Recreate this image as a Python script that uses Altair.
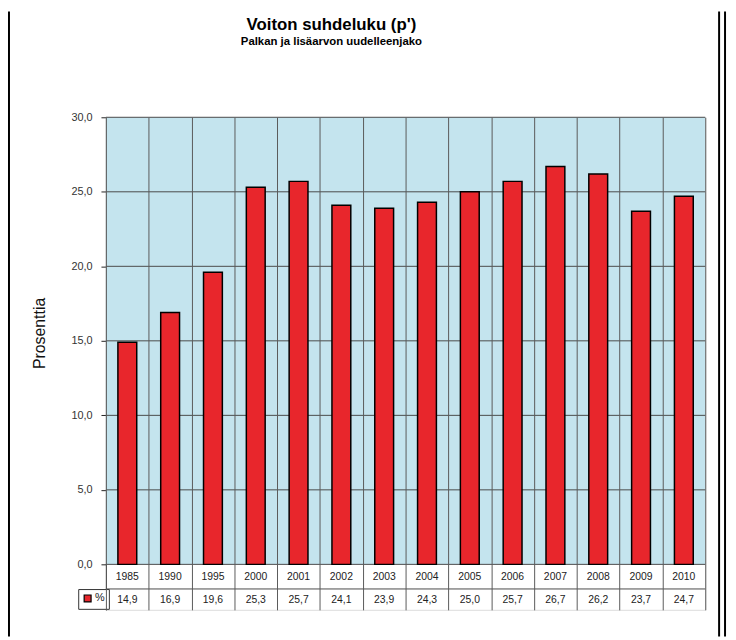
import altair as alt
import pandas as pd

# ---- data ----
years = ["1985", "1990", "1995", "2000", "2001", "2002", "2003",
         "2004", "2005", "2006", "2007", "2008", "2009", "2010"]
values = [14.9, 16.9, 19.6, 25.3, 25.7, 24.1, 23.9,
          24.3, 25.0, 25.7, 26.7, 26.2, 23.7, 24.7]
series_name = "%"
y_ticks = [0, 5, 10, 15, 20, 25, 30]
table_lines = [-1.65]
year_row = -0.83
value_row = -2.36

FONT = "Liberation Sans"
W, H = 606, 498
YMIN, YMAX = -3.05, 30

df = pd.DataFrame({"year": years, "value": values, "series": series_name})
df["label"] = [f"{v:.1f}".replace(".", ",") for v in values]
grid_df = pd.DataFrame({"v": y_ticks + table_lines})
band_df = pd.DataFrame({"y0": [0], "y1": [YMAX]})

yscale = alt.Scale(domain=[YMIN, YMAX], nice=False, zero=False)
yaxis = alt.Axis(
    title="Prosenttia", values=y_ticks, grid=False,
    labelExpr="replace(format(datum.value, '.1f'), '.', ',')",
    labelFont=FONT, labelFontSize=11, labelColor="#333",
    labelPadding=9, tickSize=5, tickColor="#222", domainColor="#222",
    titleFont=FONT, titleFontSize=16, titleFontWeight="normal", titleColor="#111",
    titleX=-62, titleY=218, titleAlign="center", titleBaseline="alphabetic", titleAngle=270,
)
xaxis = alt.Axis(
    title=None, labels=False, ticks=False, domain=False, grid=True,
    tickBand="extent", gridColor="#5a5a5a", gridWidth=1, zindex=1,
)
xenc = alt.X("year:N", sort=years, scale=alt.Scale(paddingInner=0, paddingOuter=0), axis=xaxis)

band = alt.Chart(band_df).mark_rect(color="#c4e4ee").encode(
    y=alt.Y("y0:Q", scale=yscale, axis=yaxis), y2="y1:Q"
)

hgrid = alt.Chart(grid_df).mark_rule(color="#4a4a4a", strokeWidth=1).encode(
    y=alt.Y("v:Q", scale=yscale, axis=yaxis)
)

bars = alt.Chart(df).mark_bar(
    width=alt.RelativeBandSize(0.44), stroke="black", strokeWidth=1.5
).encode(
    x=xenc,
    y=alt.Y("value:Q", scale=yscale, axis=yaxis),
    y2=alt.datum(0),
    color=alt.Color(
        "series:N",
        scale=alt.Scale(domain=[series_name], range=["#e8262c"]),
        legend=alt.Legend(
            title=None, orient="none", legendX=-28, legendY=477,
            symbolType="square", symbolSize=49, symbolStrokeColor="black",
            symbolStrokeWidth=1.2, labelFont=FONT, labelFontSize=11,
            labelColor="#222", labelOffset=2, padding=4,
            strokeColor="#333", fillColor="white",
        ),
    ),
)

year_text = alt.Chart(df).mark_text(
    font=FONT, fontSize=10.5, color="#222", baseline="middle"
).encode(x=xenc, y=alt.datum(year_row), text="year:N")

value_text = alt.Chart(df).mark_text(
    font=FONT, fontSize=10.5, color="#222", baseline="middle"
).encode(x=xenc, y=alt.datum(value_row), text="label:N")

frame_l = alt.Chart(band_df).mark_rule(color="black", strokeWidth=2).encode(
    x=alt.value(-98), y=alt.value(-107), y2=alt.value(H + 27)
)
frame_r1 = alt.Chart(band_df).mark_rule(color="black", strokeWidth=2).encode(
    x=alt.value(620), y=alt.value(-107), y2=alt.value(H + 27)
)
frame_r2 = alt.Chart(band_df).mark_rule(color="black", strokeWidth=2).encode(
    x=alt.value(626), y=alt.value(-107), y2=alt.value(H + 27)
)

chart = alt.layer(
    band, hgrid, bars, year_text, value_text, frame_l, frame_r1, frame_r2
).properties(
    width=W, height=H,
    autosize=alt.AutoSizeParams(type="none"),
    padding={"left": 99, "top": 107, "right": 23, "bottom": 27},
    title=alt.TitleParams(
        "Voiton suhdeluku (p')",
        subtitle="Palkan ja lisäarvon uudelleenjako",
        font=FONT, subtitleFont=FONT, fontSize=17, subtitleFontSize=11.5,
        fontWeight="bold", subtitleFontWeight="bold",
        color="black", subtitleColor="black",
        anchor="middle", dx=-75, offset=-38, subtitlePadding=2,
    ),
).configure_view(
    stroke="#333", strokeWidth=1
).configure(background="white")

chart.save("out.html", embed_options={"renderer": "svg", "actions": False})
